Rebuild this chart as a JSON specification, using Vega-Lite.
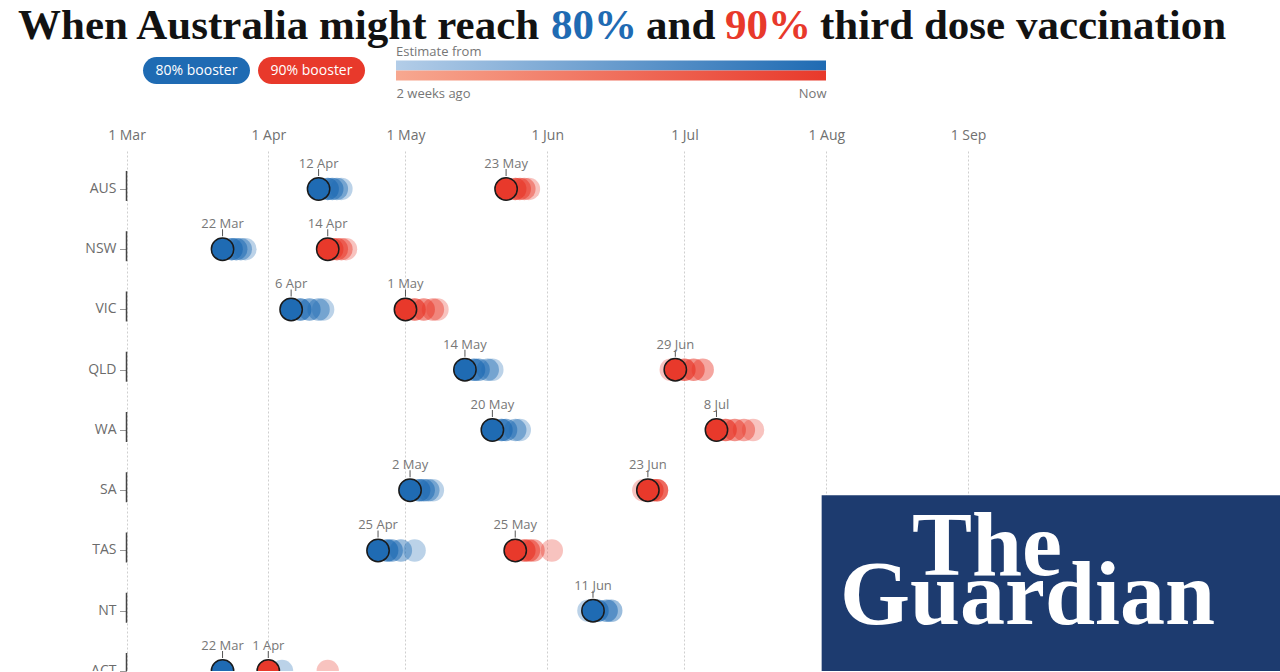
{
  "$schema": "https://vega.github.io/schema/vega-lite/v6.json",
  "padding": {"left": 18, "top": 5, "right": 0, "bottom": 0},
  "config": {
    "view": {"stroke": null},
    "font": "Open Sans",
    "title": {"font": "Liberation Serif", "fontSize": 43, "fontWeight": "bold", "anchor": "start", "offset": 0, "color": "#121212"}
  },
  "spacing": 28,
  "vconcat": [
    {
      "spacing": -7,
      "vconcat": [
        {
          "spacing": 9,
          "hconcat": [
            {"title": {"text": "When Australia might reach"}, "width": 1, "height": 1, "data": {"values": [{}]}, "mark": {"type": "point", "size": 0, "strokeWidth": 0, "opacity": 0}},
            {"title": {"text": "80%", "color": "#1f6bb3"}, "width": 1, "height": 1, "data": {"values": [{}]}, "mark": {"type": "point", "size": 0, "strokeWidth": 0, "opacity": 0}},
            {"title": {"text": "and"}, "width": 1, "height": 1, "data": {"values": [{}]}, "mark": {"type": "point", "size": 0, "strokeWidth": 0, "opacity": 0}},
            {"title": {"text": "90%", "color": "#e8392b"}, "width": 1, "height": 1, "data": {"values": [{}]}, "mark": {"type": "point", "size": 0, "strokeWidth": 0, "opacity": 0}},
            {"title": {"text": "third dose vaccination"}, "width": 1, "height": 1, "data": {"values": [{}]}, "mark": {"type": "point", "size": 0, "strokeWidth": 0, "opacity": 0}}
          ]
        },
        {
          "spacing": 31,
          "hconcat": [
            {
              "width": 347,
              "height": 27,
              "data": {"values": [{"series": "80% booster"}, {"series": "90% booster"}]},
              "encoding": {
                "x": {"field": "series", "type": "nominal", "scale": {"type": "band", "domain": ["80% booster", "90% booster"], "paddingInner": 0.07, "paddingOuter": 0.5435, "align": 1}, "axis": null}
              },
              "layer": [
                {
                  "mark": {"type": "rect", "cornerRadius": 13.5},
                  "encoding": {"color": {"field": "series", "type": "nominal", "scale": {"domain": ["80% booster", "90% booster"], "range": ["#1f6bb3", "#e8392b"]}, "legend": null}}
                },
                {
                  "mark": {"type": "text", "color": "#ffffff", "fontSize": 14, "baseline": "middle"},
                  "encoding": {"text": {"field": "series"}}
                }
              ]
            },
            {
              "width": 430,
              "height": 27,
              "title": {"text": "Estimate from", "font": "Open Sans", "fontSize": 13, "fontWeight": "normal", "color": "#767676", "anchor": "start", "offset": -2},
              "data": {"values": [{"series": "80% booster", "from": -14, "to": 0}, {"series": "90% booster", "from": -14, "to": 0}]},
              "encoding": {
                "y": {"field": "series", "type": "nominal", "scale": {"type": "band", "domain": ["80% booster", "90% booster"], "paddingInner": 0, "paddingOuter": 0.35}, "axis": null},
                "x": {"field": "from", "type": "quantitative", "scale": {"domain": [-14, 0], "nice": false, "zero": false},
                  "axis": {"values": [-14, 0], "labelExpr": "datum.value == 0 ? 'Now' : '2 weeks ago'", "labelFlush": true, "domain": false, "ticks": false, "grid": false, "title": null, "labelPadding": 3, "labelFontSize": 13, "labelColor": "#767676"}},
                "x2": {"field": "to"}
              },
              "layer": [
                {
                  "transform": [{"filter": "datum.series == '80% booster'"}],
                  "mark": {"type": "rect", "color": {"gradient": "linear", "x1": 0, "y1": 0, "x2": 1, "y2": 0, "stops": [{"offset": 0, "color": "#b3cde8"}, {"offset": 1, "color": "#1f6bb3"}]}}
                },
                {
                  "transform": [{"filter": "datum.series == '90% booster'"}],
                  "mark": {"type": "rect", "color": {"gradient": "linear", "x1": 0, "y1": 0, "x2": 1, "y2": 0, "stops": [{"offset": 0, "color": "#f7a890"}, {"offset": 1, "color": "#e8392b"}]}}
                }
              ]
            }
          ]
        }
      ]
    },
    {
      "width": 1262,
      "height": 520,
      "data": {
        "format": {"parse": {"date": "date:'%Y-%m-%d'"}},
        "values": [
          {"state": "AUS", "series": "80% booster", "date": "2022-04-17", "age": 14},
          {"state": "AUS", "series": "80% booster", "date": "2022-04-16", "age": 10},
          {"state": "AUS", "series": "80% booster", "date": "2022-04-15", "age": 7},
          {"state": "AUS", "series": "80% booster", "date": "2022-04-14", "age": 3},
          {"state": "AUS", "series": "80% booster", "date": "2022-04-12", "age": 0},
          {"state": "AUS", "series": "90% booster", "date": "2022-05-28", "age": 14},
          {"state": "AUS", "series": "90% booster", "date": "2022-05-27", "age": 10},
          {"state": "AUS", "series": "90% booster", "date": "2022-05-26", "age": 7},
          {"state": "AUS", "series": "90% booster", "date": "2022-05-25", "age": 3},
          {"state": "AUS", "series": "90% booster", "date": "2022-05-23", "age": 0},
          {"state": "NSW", "series": "80% booster", "date": "2022-03-27", "age": 14},
          {"state": "NSW", "series": "80% booster", "date": "2022-03-26", "age": 10},
          {"state": "NSW", "series": "80% booster", "date": "2022-03-25", "age": 7},
          {"state": "NSW", "series": "80% booster", "date": "2022-03-24", "age": 3},
          {"state": "NSW", "series": "80% booster", "date": "2022-03-22", "age": 0},
          {"state": "NSW", "series": "90% booster", "date": "2022-04-18", "age": 14},
          {"state": "NSW", "series": "90% booster", "date": "2022-04-17", "age": 10},
          {"state": "NSW", "series": "90% booster", "date": "2022-04-16", "age": 7},
          {"state": "NSW", "series": "90% booster", "date": "2022-04-15", "age": 3},
          {"state": "NSW", "series": "90% booster", "date": "2022-04-14", "age": 0},
          {"state": "VIC", "series": "80% booster", "date": "2022-04-13", "age": 14},
          {"state": "VIC", "series": "80% booster", "date": "2022-04-12", "age": 10},
          {"state": "VIC", "series": "80% booster", "date": "2022-04-10", "age": 7},
          {"state": "VIC", "series": "80% booster", "date": "2022-04-08", "age": 3},
          {"state": "VIC", "series": "80% booster", "date": "2022-04-06", "age": 0},
          {"state": "VIC", "series": "90% booster", "date": "2022-05-08", "age": 14},
          {"state": "VIC", "series": "90% booster", "date": "2022-05-07", "age": 10},
          {"state": "VIC", "series": "90% booster", "date": "2022-05-05", "age": 7},
          {"state": "VIC", "series": "90% booster", "date": "2022-05-03", "age": 3},
          {"state": "VIC", "series": "90% booster", "date": "2022-05-01", "age": 0},
          {"state": "QLD", "series": "80% booster", "date": "2022-05-20", "age": 14},
          {"state": "QLD", "series": "80% booster", "date": "2022-05-19", "age": 10},
          {"state": "QLD", "series": "80% booster", "date": "2022-05-17", "age": 7},
          {"state": "QLD", "series": "80% booster", "date": "2022-05-16", "age": 3},
          {"state": "QLD", "series": "80% booster", "date": "2022-05-14", "age": 0},
          {"state": "QLD", "series": "90% booster", "date": "2022-06-28", "age": 14},
          {"state": "QLD", "series": "90% booster", "date": "2022-07-05", "age": 10},
          {"state": "QLD", "series": "90% booster", "date": "2022-07-03", "age": 7},
          {"state": "QLD", "series": "90% booster", "date": "2022-07-01", "age": 3},
          {"state": "QLD", "series": "90% booster", "date": "2022-06-29", "age": 0},
          {"state": "WA", "series": "80% booster", "date": "2022-05-26", "age": 14},
          {"state": "WA", "series": "80% booster", "date": "2022-05-25", "age": 10},
          {"state": "WA", "series": "80% booster", "date": "2022-05-23", "age": 7},
          {"state": "WA", "series": "80% booster", "date": "2022-05-22", "age": 3},
          {"state": "WA", "series": "80% booster", "date": "2022-05-20", "age": 0},
          {"state": "WA", "series": "90% booster", "date": "2022-07-16", "age": 14},
          {"state": "WA", "series": "90% booster", "date": "2022-07-14", "age": 10},
          {"state": "WA", "series": "90% booster", "date": "2022-07-12", "age": 7},
          {"state": "WA", "series": "90% booster", "date": "2022-07-10", "age": 3},
          {"state": "WA", "series": "90% booster", "date": "2022-07-08", "age": 0},
          {"state": "SA", "series": "80% booster", "date": "2022-05-07", "age": 14},
          {"state": "SA", "series": "80% booster", "date": "2022-05-06", "age": 10},
          {"state": "SA", "series": "80% booster", "date": "2022-05-05", "age": 7},
          {"state": "SA", "series": "80% booster", "date": "2022-05-04", "age": 3},
          {"state": "SA", "series": "80% booster", "date": "2022-05-02", "age": 0},
          {"state": "SA", "series": "90% booster", "date": "2022-06-22", "age": 14},
          {"state": "SA", "series": "90% booster", "date": "2022-06-25", "age": 10},
          {"state": "SA", "series": "90% booster", "date": "2022-06-25", "age": 7},
          {"state": "SA", "series": "90% booster", "date": "2022-06-24", "age": 3},
          {"state": "SA", "series": "90% booster", "date": "2022-06-23", "age": 0},
          {"state": "TAS", "series": "80% booster", "date": "2022-05-03", "age": 14},
          {"state": "TAS", "series": "80% booster", "date": "2022-04-30", "age": 10},
          {"state": "TAS", "series": "80% booster", "date": "2022-04-28", "age": 7},
          {"state": "TAS", "series": "80% booster", "date": "2022-04-27", "age": 3},
          {"state": "TAS", "series": "80% booster", "date": "2022-04-25", "age": 0},
          {"state": "TAS", "series": "90% booster", "date": "2022-06-02", "age": 14},
          {"state": "TAS", "series": "90% booster", "date": "2022-05-29", "age": 10},
          {"state": "TAS", "series": "90% booster", "date": "2022-05-28", "age": 7},
          {"state": "TAS", "series": "90% booster", "date": "2022-05-27", "age": 3},
          {"state": "TAS", "series": "90% booster", "date": "2022-05-25", "age": 0},
          {"state": "NT", "series": "80% booster", "date": "2022-06-10", "age": 14},
          {"state": "NT", "series": "80% booster", "date": "2022-06-15", "age": 10},
          {"state": "NT", "series": "80% booster", "date": "2022-06-14", "age": 7},
          {"state": "NT", "series": "80% booster", "date": "2022-06-12", "age": 3},
          {"state": "NT", "series": "80% booster", "date": "2022-06-11", "age": 0},
          {"state": "ACT", "series": "80% booster", "date": "2022-04-04", "age": 14},
          {"state": "ACT", "series": "80% booster", "date": "2022-03-22", "age": 10},
          {"state": "ACT", "series": "80% booster", "date": "2022-03-22", "age": 7},
          {"state": "ACT", "series": "80% booster", "date": "2022-03-22", "age": 3},
          {"state": "ACT", "series": "80% booster", "date": "2022-03-22", "age": 0},
          {"state": "ACT", "series": "90% booster", "date": "2022-04-14", "age": 14},
          {"state": "ACT", "series": "90% booster", "date": "2022-04-01", "age": 10},
          {"state": "ACT", "series": "90% booster", "date": "2022-04-01", "age": 7},
          {"state": "ACT", "series": "90% booster", "date": "2022-04-01", "age": 3},
          {"state": "ACT", "series": "90% booster", "date": "2022-04-01", "age": 0}
        ]
      },
      "encoding": {
        "x": {
          "field": "date",
          "type": "temporal",
          "scale": {"domain": [{"year": 2022, "month": "feb", "date": 5, "hours": 6, "minutes": 37}, {"year": 2022, "month": "nov", "date": 8, "hours": 5, "minutes": 17}]},
          "axis": {
            "orient": "top",
            "values": [
              {"year": 2022, "month": "mar", "date": 1},
              {"year": 2022, "month": "apr", "date": 1},
              {"year": 2022, "month": "may", "date": 1},
              {"year": 2022, "month": "jun", "date": 1},
              {"year": 2022, "month": "jul", "date": 1},
              {"year": 2022, "month": "aug", "date": 1},
              {"year": 2022, "month": "sep", "date": 1}
            ],
            "format": "%-d %b",
            "labelFontSize": 14,
            "labelColor": "#707070",
            "labelPadding": 9,
            "domain": false,
            "ticks": false,
            "grid": true,
            "gridColor": "#cfcfcf",
            "gridDash": [2, 2],
            "gridWidth": 1,
            "title": null
          }
        },
        "y": {
          "field": "state",
          "type": "nominal",
          "scale": {"type": "point", "domain": ["AUS", "NSW", "VIC", "QLD", "WA", "SA", "TAS", "NT", "ACT"], "padding": 0.315, "align": 1},
          "axis": {"labels": false, "ticks": true, "tickSize": 7, "tickColor": "#999999", "tickWidth": 1, "domain": false, "grid": false, "title": null, "offset": -108.5}
        }
      },
      "layer": [
        {
          "transform": [{"filter": "datum.age == 0 && datum.series == '80% booster'"}],
          "mark": {"type": "tick", "color": "#444444", "thickness": 1.5, "opacity": 1, "yOffset": -3, "clip": true},
          "encoding": {
            "x": {"datum": {"year": 2022, "month": "mar", "date": 1}, "type": "temporal"},
            "size": {"value": 30}
          }
        },
        {
          "transform": [{"filter": "datum.age > 0"}],
          "mark": {"type": "circle", "size": 500, "clip": true},
          "encoding": {
            "color": {"field": "series", "type": "nominal", "scale": {"domain": ["80% booster", "90% booster"], "range": ["#1f6bb3", "#e8392b"]}, "legend": null},
            "opacity": {"field": "age", "type": "quantitative", "scale": {"domain": [3, 14], "range": [0.7, 0.3]}, "legend": null}
          }
        },
        {
          "transform": [{"filter": "datum.age == 0"}],
          "mark": {"type": "circle", "size": 500, "opacity": 1, "stroke": "#1a1a1a", "strokeWidth": 1.5, "clip": true},
          "encoding": {
            "color": {"field": "series", "type": "nominal", "scale": {"domain": ["80% booster", "90% booster"], "range": ["#1f6bb3", "#e8392b"]}, "legend": null}
          }
        },
        {
          "transform": [{"filter": "datum.age == 0"}],
          "mark": {"type": "tick", "color": "#555555", "thickness": 1, "opacity": 1, "yOffset": -16.5, "clip": true},
          "encoding": {"size": {"value": 7}}
        },
        {
          "transform": [{"filter": "datum.age == 0"}],
          "mark": {"type": "text", "fontSize": 13, "color": "#777777", "dy": -25, "baseline": "middle", "clip": true},
          "encoding": {"text": {"field": "date", "type": "temporal", "format": "%-d %b"}}
        },
        {
          "transform": [{"filter": "datum.age == 0 && datum.series == '80% booster'"}],
          "mark": {"type": "text", "fontSize": 14, "color": "#6b6b6b", "align": "right", "baseline": "middle", "dx": -10, "clip": true},
          "encoding": {
            "x": {"datum": {"year": 2022, "month": "mar", "date": 1}, "type": "temporal"},
            "text": {"field": "state"}
          }
        },
        {
          "transform": [{"filter": "datum.age == 0 && datum.series == '80% booster' && datum.state == 'SA'"}],
          "mark": {"type": "rect", "color": "#1d3b6f", "opacity": 1, "height": 260, "yOffset": 135, "clip": true},
          "encoding": {
            "x": {"datum": {"year": 2022, "month": "jul", "date": 31}, "type": "temporal"},
            "x2": {"datum": {"year": 2022, "month": "dec", "date": 31}},
            "y": {"datum": "SA", "type": "nominal"}
          }
        },
        {
          "transform": [{"filter": "datum.age == 0 && datum.series == '80% booster' && datum.state == 'SA'"}],
          "mark": {"type": "text", "text": "The", "font": "Liberation Serif", "fontWeight": "bold", "fontSize": 90, "color": "#ffffff", "align": "left", "baseline": "alphabetic", "dy": 25, "clip": true},
          "encoding": {
            "x": {"datum": {"year": 2022, "month": "aug", "date": 19, "hours": 18}, "type": "temporal"},
            "y": {"datum": "TAS", "type": "nominal"}
          }
        },
        {
          "transform": [{"filter": "datum.age == 0 && datum.series == '80% booster' && datum.state == 'SA'"}],
          "mark": {"type": "text", "text": "Guardian", "font": "Liberation Serif", "fontWeight": "bold", "fontSize": 90, "color": "#ffffff", "align": "left", "baseline": "alphabetic", "dy": 13, "clip": true},
          "encoding": {
            "x": {"datum": {"year": 2022, "month": "aug", "date": 4}, "type": "temporal"},
            "y": {"datum": "NT", "type": "nominal"}
          }
        }
      ]
    }
  ]
}
